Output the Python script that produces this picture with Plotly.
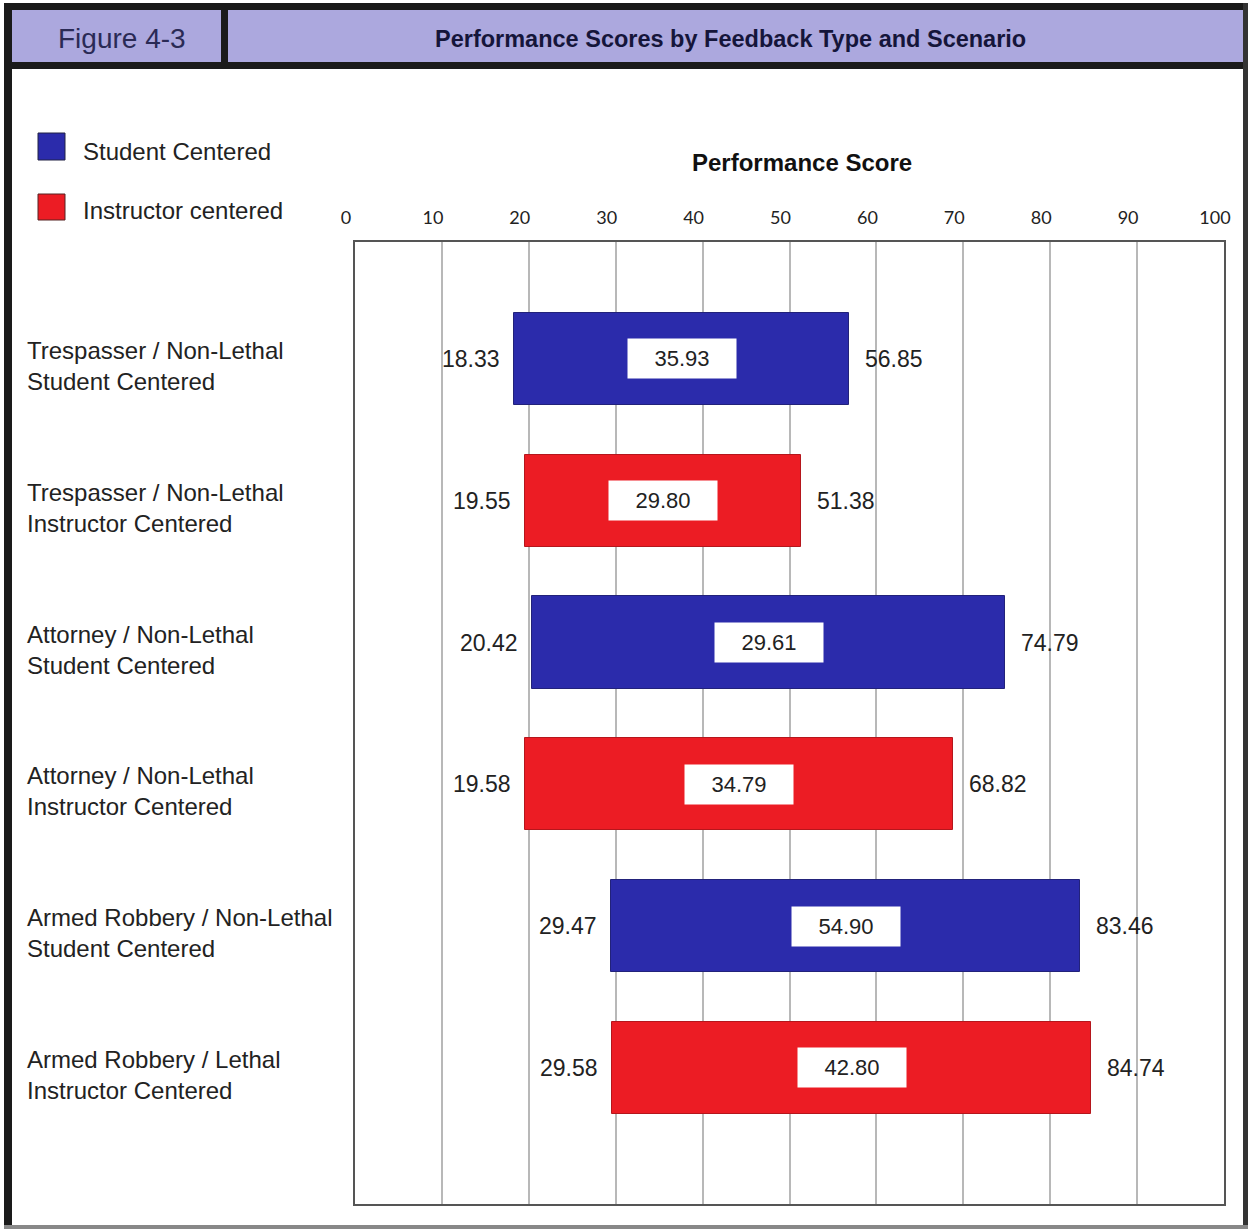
import plotly.graph_objects as go

# Scenario / feedback groups, top to bottom
scenarios = ["Trespasser / Non-Lethal", "Trespasser / Non-Lethal",
             "Attorney / Non-Lethal", "Attorney / Non-Lethal",
             "Armed Robbery / Non-Lethal", "Armed Robbery / Lethal"]
feedback = ["Student Centered", "Instructor Centered",
            "Student Centered", "Instructor Centered",
            "Student Centered", "Instructor Centered"]
min_scores = [18.33, 19.55, 20.42, 19.58, 29.47, 29.58]
mid_scores = [35.93, 29.80, 29.61, 34.79, 54.90, 42.80]
max_scores = [56.85, 51.38, 74.79, 68.82, 83.46, 84.74]
tick_vals = [0, 10, 20, 30, 40, 50, 60, 70, 80, 90, 100]

BLUE = "#2b2bab"
RED = "#ec1c24"
colors = [BLUE if f == "Student Centered" else RED for f in feedback]
edges = ["#22227a" if f == "Student Centered" else "#b5161c" for f in feedback]

W, H = 1249, 1230
L, R, T, B = 355, 1224, 242, 1204


def px(x):
    return (x - L) / (R - L)


def py(y):
    return (B - y) / (B - T)


FONT = "Liberation Sans, Arial, sans-serif"
NARROW = "Liberation Sans Narrow, Arial Narrow, Liberation Sans, sans-serif"

ys = list(range(len(scenarios)))

fig = go.Figure()
fig.add_trace(go.Bar(
    orientation="h",
    y=ys,
    base=min_scores,
    x=[hi - lo for lo, hi in zip(min_scores, max_scores)],
    width=0.65,
    marker=dict(color=colors, line=dict(color=edges, width=1)),
    showlegend=False,
    hoverinfo="skip",
))

annotations = []
for i in ys:
    lo, mid, hi = min_scores[i], mid_scores[i], max_scores[i]
    annotations.append(dict(x=lo, y=i, xref="x", yref="y", text=f"{lo:.2f}",
                            showarrow=False, xanchor="right", yanchor="middle", xshift=-12,
                            font=dict(family=NARROW, size=23, color="#222")))
    annotations.append(dict(x=hi, y=i, xref="x", yref="y", text=f"{hi:.2f}",
                            showarrow=False, xanchor="left", yanchor="middle", xshift=14,
                            font=dict(family=NARROW, size=23, color="#222")))
    annotations.append(dict(x=(lo + hi) / 2, y=i, xref="x", yref="y", text=f"{mid:.2f}",
                            showarrow=False, bgcolor="white", width=106, height=37,
                            xanchor="center", yanchor="middle",
                            font=dict(family=NARROW, size=22, color="#222")))
    annotations.append(dict(x=px(25), y=i, xref="paper", yref="y",
                            text=f"{scenarios[i]}<br>{feedback[i]}",
                            showarrow=False, xanchor="left", yanchor="middle", align="left",
                            yshift=-7, font=dict(family=FONT, size=24, color="#222")))


def paper_text(x, y, text, size, color="#222", anchor="left", family=FONT):
    annotations.append(dict(x=px(x), y=py(y), xref="paper", yref="paper", text=text,
                            showarrow=False, xanchor=anchor, yanchor="middle",
                            font=dict(family=family, size=size, color=color)))


# Legend
paper_text(81, 151, "Student Centered", 24)
paper_text(81, 210, "Instructor centered", 24)
# Axis title
paper_text(802, 162, "<b>Performance Score</b>", 24, "#111", "center")
# Header texts
paper_text(122, 38, "Figure 4-3", 28, "#2a2a55", "center")
paper_text(730, 39, "<b>Performance Scores by Feedback Type and Scenario</b>", 23.5,
           "#15153a", "center", NARROW)

shapes = []


def rect(x0, y0, x1, y1, fill, line_color=None, lw=0):
    shapes.append(dict(type="rect", xref="paper", yref="paper",
                       x0=px(x0), x1=px(x1), y0=py(y1), y1=py(y0),
                       fillcolor=fill, line=dict(color=line_color or fill, width=lw), layer="below"))


# Outer frame
rect(4, 3, 1248, 1229, "white")
rect(4, 3, 1248, 10, "#1a1a1a")
rect(4, 3, 12, 1229, "#1a1a1a")
rect(1243, 3, 1248, 1229, "#333")
rect(4, 1225, 1248, 1229, "#888")
# Header band
rect(12, 10, 1243, 62, "#aca8de")
rect(12, 62, 1243, 69, "#1a1a1a")
rect(221, 10, 228, 62, "#1a1a1a")
# Legend swatches
rect(38, 133, 65, 160, BLUE, "#222244", 1)
rect(38, 194, 65, 220, RED, "#552222", 1)

fig.update_layout(
    width=W, height=H,
    margin=dict(l=L, r=W - R, t=T, b=H - B, pad=0),
    paper_bgcolor="white", plot_bgcolor="white",
    bargap=0,
    xaxis=dict(range=[0, 100], side="top", tickvals=tick_vals,
               ticks="", showgrid=True, gridcolor="#b8b8b8", gridwidth=2,
               showline=True, linecolor="#555", linewidth=2, mirror=True,
               tickfont=dict(family="Lato, Carlito, sans-serif", size=18, color="#222"),
               ticklabelstandoff=9, ticklabelshift=-9, zeroline=False, fixedrange=True),
    yaxis=dict(range=[5.96, -0.825], showticklabels=False, showgrid=False, zeroline=False,
               showline=True, linecolor="#555", linewidth=2, mirror=True, fixedrange=True),
    annotations=annotations,
    shapes=shapes,
)

fig.write_html("out.html")
